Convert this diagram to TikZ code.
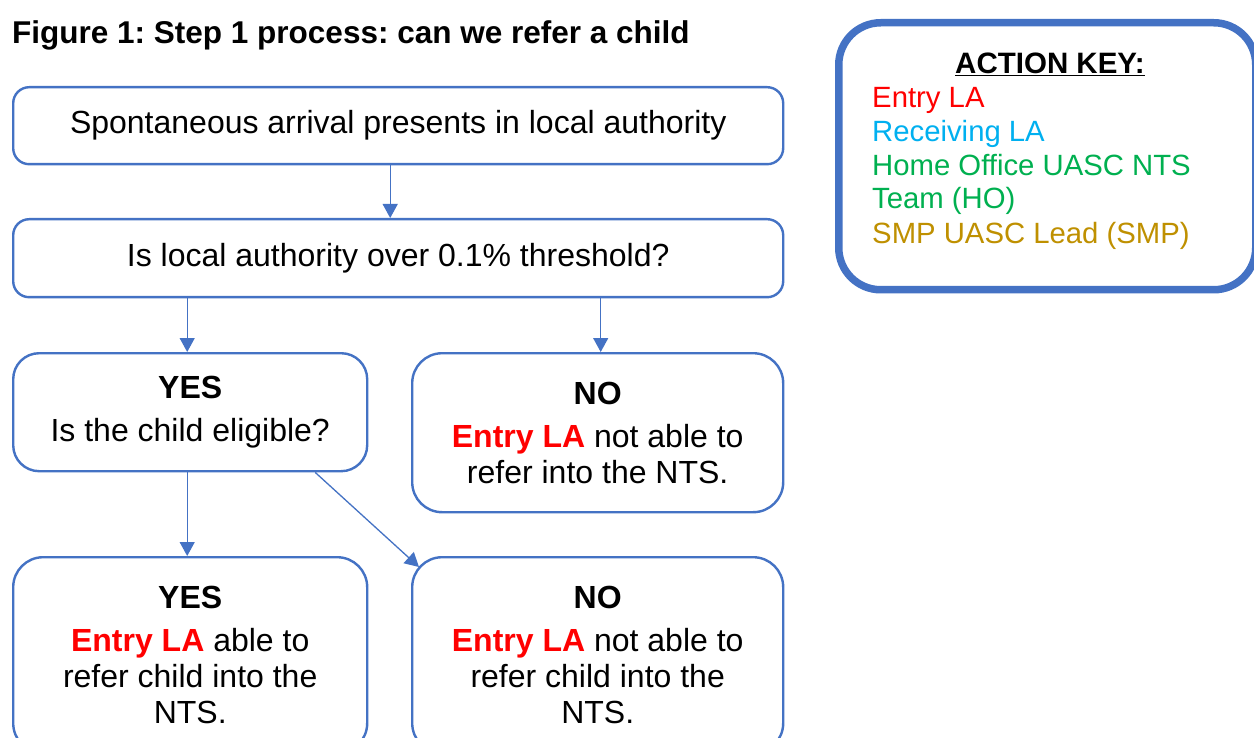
\documentclass[tikz,border=0pt]{standalone}
\usepackage{fontspec}
\setmainfont{Liberation Sans}
\usetikzlibrary{arrows.meta}
\definecolor{bl}{HTML}{4472C4}
\definecolor{entryred}{HTML}{FF0000}
\definecolor{recblue}{HTML}{00B0F0}
\definecolor{hogreen}{HTML}{00B050}
\definecolor{smpgold}{HTML}{BF9000}
\frenchspacing
\newcommand{\bodyfs}{\fontsize{32}{36}\selectfont}
\newcommand{\entry}{\textbf{\color{entryred}Entry LA}}
\begin{document}
\begin{tikzpicture}[x=1pt,y=-1pt,
  flowbox/.style={draw=bl, line width=2.4pt, fill=white, inner sep=0pt, align=center, anchor=north west, font=\bodyfs},
  arr/.style={draw=bl, line width=1.3pt, -{Triangle[length=14pt,width=15pt]}},
  keytext/.style={anchor=base west, inner sep=0pt, font=\fontsize{29.3}{34}\selectfont}]
\useasboundingbox (0,0) rectangle (1254,738);
\clip (0,0) rectangle (1254,738);
\fill[white] (0,0) rectangle (1254,738);

\node[anchor=base west, inner sep=0pt, font=\fontsize{31.5}{36}\selectfont\bfseries] (title) at (12,43.5) {Figure 1: Step 1 process: can we refer a child};

\node[flowbox, rounded corners=16pt, minimum width=770pt, minimum height=77pt] (b1) at (12,86) {Spontaneous arrival presents in local authority};
\node[flowbox, rounded corners=16pt, minimum width=770pt, minimum height=78pt] (b2) at (12,218) {Is local authority over 0.1\% threshold?};
\node[flowbox, rounded corners=26pt, minimum width=354pt, minimum height=118pt] (b3) at (12,352) {\textbf{YES}\\[7pt]Is the child eligible?};
\node[flowbox, rounded corners=30pt, minimum width=371pt, minimum height=159pt] (b4) at (411,352) {\textbf{NO}\\[7pt]\entry{} not able to\\refer into the NTS.};
\node[flowbox, rounded corners=30pt, minimum width=354pt, minimum height=196pt] (b5) at (12,556) {\textbf{YES}\\[7pt]\entry{} able to\\refer child into the\\NTS.};
\node[flowbox, rounded corners=30pt, minimum width=371pt, minimum height=196pt] (b6) at (411,556) {\textbf{NO}\\[7pt]\entry{} not able to\\refer child into the\\NTS.};

\draw[arr] ([xshift=-8pt]b1.south) -- ([xshift=-8pt]b2.north);
\draw[arr] ([xshift=-3pt]b3.north |- b2.south) -- ([xshift=-3pt]b3.north);
\draw[arr] ([xshift=3pt]b4.north |- b2.south) -- ([xshift=3pt]b4.north);
\draw[arr] ([xshift=-3pt]b3.south) -- ([xshift=-3pt]b5.north);
\draw[arr] ([xshift=125pt]b3.south) -- ([shift={(8pt,-11pt)}]b6.north west);

\node[draw=bl, line width=7.5pt, rounded corners=42pt, inner sep=0pt, minimum width=417pt, minimum height=267pt, anchor=north west] (key) at (835,19) {};
\node[anchor=base, inner sep=0pt, font=\fontsize{29.5}{34}\selectfont\bfseries] (keyhead) at (1050,74) {\underline{ACTION KEY:}};
\node[keytext, text=entryred] (k1) at (872,108) {Entry LA};
\node[keytext, text=recblue] (k2) at (872,142) {Receiving LA};
\node[keytext, text=hogreen] (k3) at (872,176) {Home Office UASC NTS};
\node[keytext, text=hogreen] (k4) at (872,209) {Team (HO)};
\node[keytext, text=smpgold] (k5) at (872,244) {SMP UASC Lead (SMP)};
\end{tikzpicture}
\end{document}
